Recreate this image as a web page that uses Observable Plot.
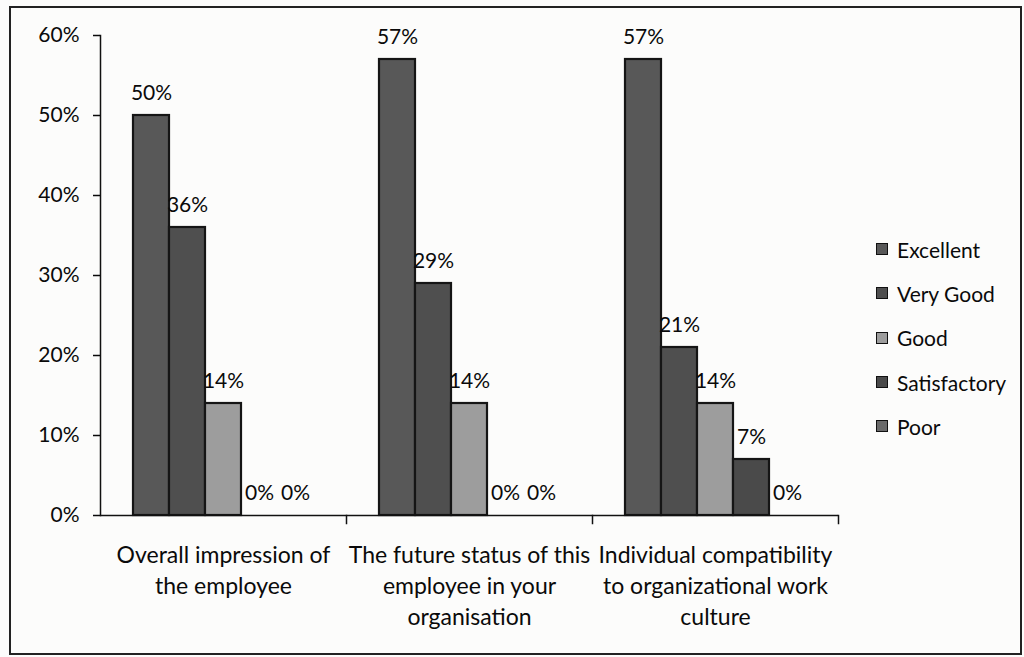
<!DOCTYPE html>
<html>
<head>
<meta charset="utf-8">
<script src="https://cdn.jsdelivr.net/npm/d3@7"></script>
<script src="https://cdn.jsdelivr.net/npm/@observablehq/plot@0.6"></script>
<style>
  html, body { margin: 0; padding: 0; background: #fcfcfb; }
  #wrap { position: relative; width: 1024px; height: 657px; overflow: hidden; font-family: Lato, "Noto Sans", sans-serif; }
  #border { position: absolute; left: 9px; top: 6px; width: 1009px; height: 645px; border: 2px solid #222; }
  #chart { position: absolute; left: 0; top: 0; }
  #legend { position: absolute; left: 876px; top: 227px; color: #0a0a0a; font-size: 21px; }
  #legend .item { display: flex; align-items: center; height: 44.3px; }
  #legend .sw { width: 10px; height: 10px; border: 1px solid #111; margin-right: 9px; }
</style>
</head>
<body>
<div id="wrap">
  <div id="border"></div>
  <div id="chart"></div>
  <div id="legend"></div>
</div>
<script>
const categories = [
  "Overall impression of the employee",
  "The future status of this employee in your organisation",
  "Individual compatibility to organizational work culture"
];
const categoryLabels = [
  "Overall impression of\nthe employee",
  "The future status of this\nemployee in your\norganisation",
  "Individual compatibility\nto organizational work\nculture"
];
const ratings = ["Excellent", "Very Good", "Good", "Satisfactory", "Poor"];
const excellent = [50, 57, 57];
const veryGood = [36, 29, 21];
const good = [14, 14, 14];
const satisfactory = [0, 0, 7];
const poor = [0, 0, 0];
const yTicks = [0, 10, 20, 30, 40, 50, 60];
const ratingColors = ["#585858", "#4f4f4f", "#9d9d9d", "#4a4a4a", "#6a6a6a"];

const series = [excellent, veryGood, good, satisfactory, poor];
const data = [];
categories.forEach((c, i) => {
  ratings.forEach((r, j) => data.push({category: c, rating: r, value: series[j][i]}));
});

const W = 1024, H = 657, mT = 35, mB = 142, mL = 99, mR = 186;
const plotH = H - mT - mB;

const chart = Plot.plot({
  width: W, height: H,
  marginLeft: mL, marginRight: mR, marginTop: mT, marginBottom: mB,
  style: {background: "transparent", fontFamily: "Lato, 'Noto Sans', sans-serif", fontSize: "21px", color: "#0a0a0a", overflow: "visible"},
  fx: {domain: categories, padding: 0, label: null, axis: null},
  x: {domain: ratings, paddingInner: 0, paddingOuter: 0.85, axis: null},
  y: {domain: [0, 60], label: null},
  color: {domain: ratings, range: ratingColors},
  marks: [
    Plot.axisY({ticks: yTicks, tickFormat: d => d + "%", tickSize: 7, tickPadding: 14, label: null, fontSize: 21, strokeWidth: 1.5}),
    Plot.frame({anchor: "left", facetAnchor: "left", strokeWidth: 1.5, stroke: "#111"}),
    Plot.axisFx({anchor: "bottom", tickSize: 0, tickPadding: 25, lineHeight: 1.35, fontSize: 23, label: null,
      tickFormat: d => categoryLabels[categories.indexOf(d)]}),
    Plot.barY(data.filter(d => d.value > 0), {fx: "category", x: "rating", y: "value", fill: "rating", stroke: "#151515", strokeWidth: 2.2}),
    Plot.ruleY([0], {stroke: "#111", strokeWidth: 1.5}),
    Plot.frame({anchor: "right", insetTop: plotH, insetBottom: -8, stroke: "#111", strokeWidth: 1.5}),
    Plot.text(data, {fx: "category", x: "rating", y: "value", text: d => d.value + "%", lineAnchor: "bottom", dy: -16, fontSize: 21, fill: "#0a0a0a"})
  ]
});
document.getElementById("chart").appendChild(chart);

const legend = document.getElementById("legend");
ratings.forEach((r, j) => {
  const item = document.createElement("div");
  item.className = "item";
  const sw = document.createElement("span");
  sw.className = "sw";
  sw.style.background = ratingColors[j];
  const t = document.createElement("span");
  t.textContent = r;
  item.appendChild(sw);
  item.appendChild(t);
  legend.appendChild(item);
});
</script>
</body>
</html>
